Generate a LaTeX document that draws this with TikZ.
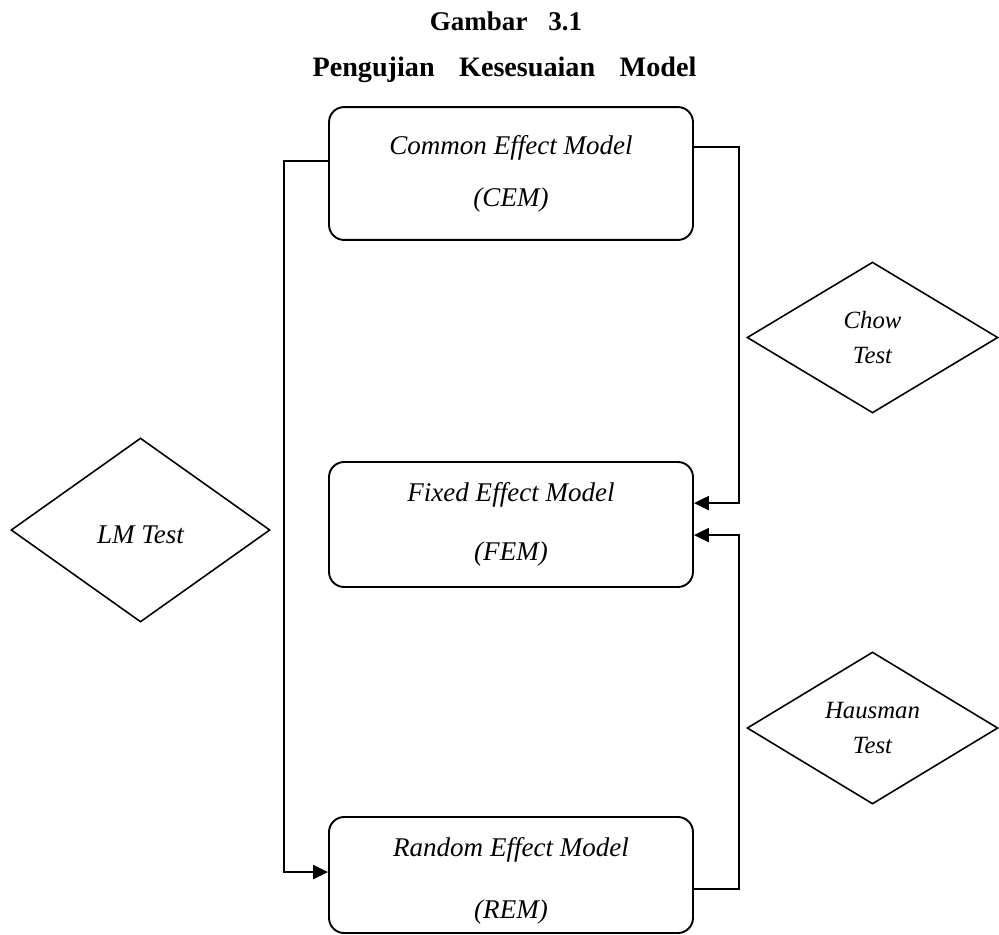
\documentclass[tikz,border=0pt]{standalone}
\usepackage{fontspec}
\setmainfont{Liberation Serif}
\usetikzlibrary{shapes.geometric,arrows.meta}

\begin{document}
\begin{tikzpicture}[x=0.444pt,y=-0.444pt,
  modelbox/.style={draw,line width=0.85pt,rounded corners=6.7pt,minimum width=161.6pt,inner sep=0pt,align=center,font=\fontsize{12}{14.4}\selectfont\itshape},
  testbox/.style={draw,diamond,line width=0.7pt,inner sep=0pt,align=center},
  flow/.style={line width=0.85pt,-{Triangle[length=6.6pt,width=6.2pt]}}]
\useasboundingbox (0,0) rectangle (999,934);
\node[anchor=base,font=\fontsize{12}{14.4}\selectfont\bfseries] (fignum) at (506,30) {Gambar\hspace{0.52em} 3.1};
\node[anchor=base,font=\fontsize{12.5}{15}\selectfont\bfseries] (figtitle) at (504.5,76) {Pengujian\hspace{0.62em} Kesesuaian\hspace{0.62em} Model};
\node[modelbox,minimum height=59pt] (cem) at (511,173.5) {Common Effect Model\\[8.7pt](CEM)};
\node[modelbox,minimum height=55.5pt] (fem) at (511,524.5) {Fixed Effect Model\\[11.8pt](FEM)};
\node[modelbox,minimum height=51.5pt] (rem) at (511,875) {\rule{0pt}{13.6pt}Random Effect Model\\[13.1pt](REM)};
\node[testbox,minimum width=111.4pt,minimum height=67pt,font=\fontsize{11}{13.2}\selectfont\itshape] (chow) at (872.5,337.5) {Chow\\[2.3pt]Test};
\node[testbox,minimum width=115pt,minimum height=81.7pt,text height=12.3pt,font=\fontsize{12}{14.4}\selectfont\itshape] (lm) at (140.5,530) {LM Test};
\node[testbox,minimum width=111.4pt,minimum height=67.5pt,font=\fontsize{11}{13.2}\selectfont\itshape] (hausman) at (872.5,728) {Hausman\\[2.3pt]Test};
\coordinate (lmrail) at (284,530);
\coordinate (chowrail) at (739,330);
\coordinate (hausrail) at (739,720);
\draw[flow] ([yshift=5.5pt]cem.west) -| (lmrail) |- ([yshift=1.3pt]rem.west);
\draw[flow] ([yshift=11.8pt]cem.east) -| (chowrail) |- ([yshift=9.5pt]fem.east);
\draw[flow] ([yshift=-6.2pt]rem.east) -| (hausrail) |- ([yshift=-4.7pt]fem.east);
\end{tikzpicture}
\end{document}
